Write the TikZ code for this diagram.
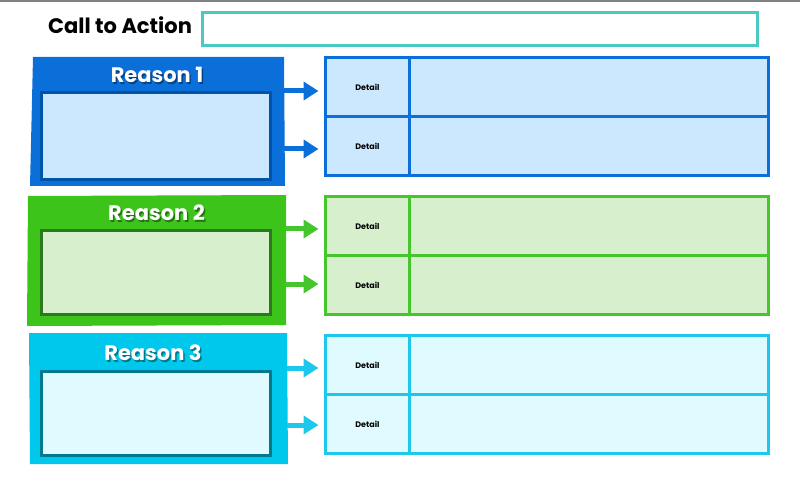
\documentclass[tikz,border=0pt]{standalone}
\usepackage{fontspec}
\setmainfont{Poppins}
\usetikzlibrary{arrows.meta}
\definecolor{ctateal}{HTML}{4CC8C4}
\definecolor{bOut}{HTML}{0A6FD8}
\definecolor{bIn}{HTML}{CCE8FF}
\definecolor{bInB}{HTML}{0054A8}
\definecolor{gOut}{HTML}{3CC41A}
\definecolor{gIn}{HTML}{D8EFCE}
\definecolor{gInB}{HTML}{2B7A1E}
\definecolor{gTab}{HTML}{44C62C}
\definecolor{cOut}{HTML}{00C8EC}
\definecolor{cIn}{HTML}{E0FBFF}
\definecolor{cInB}{HTML}{00788E}
\definecolor{cTab}{HTML}{1EC8EC}
\tikzset{
  cell/.style={draw, line width=3pt, rectangle, inner sep=0pt, outer sep=0pt, anchor=north west, font=\bfseries\fontsize{8}{9}\selectfont},
  inbox/.style={draw, line width=3pt, rectangle, inner sep=0pt, outer sep=0pt, anchor=north west},
  reasontxt/.style={text=white, font=\bfseries\fontsize{21}{24}\selectfont},
  shadowtxt/.style={text=black, opacity=0.4, font=\bfseries\fontsize{21}{24}\selectfont},
  linkarrow/.style={line width=5pt, shorten >=7pt, -{Triangle[width=18pt,length=15pt]}},
}
\begin{document}
\begin{tikzpicture}[x=1pt,y=-1pt]
\useasboundingbox (0,0) rectangle (800,478);
\fill[gray] (0,0) rectangle (800,2);
% Call to action
\node[font=\bfseries\fontsize{21}{24}\selectfont, anchor=center] (cta) at (120,25) {Call to Action};
\node[draw=ctateal, line width=3pt, inner sep=0pt, outer sep=0pt, anchor=north west, minimum width=555pt, minimum height=33pt] (ctabox) at (202.5,12.5) {};

% ---------- Reason 1 ----------
\fill[bOut] (33,57) -- (284,57) -- (285,186) -- (30,186) -- cycle;
\coordinate (r1a) at (284,91);
\coordinate (r1b) at (284,149);
\node[shadowtxt] at (158.5,76.5) {Reason 1};
\node[reasontxt] (r1t) at (157,75) {Reason 1};
\node[inbox, draw=bInB, fill=bIn, minimum width=229pt, minimum height=87pt] (r1in) at (41.5,92.5) {};
\node[cell, draw=bOut, fill=bIn, minimum width=84pt, minimum height=59pt] (d1a) at (325.5,57.5) {Detail};
\node[cell, draw=bOut, fill=bIn, minimum width=359pt, minimum height=59pt] (e1a) at (409.5,57.5) {};
\node[cell, draw=bOut, fill=bIn, minimum width=84pt, minimum height=59pt] (d1b) at (325.5,116.5) {Detail};
\node[cell, draw=bOut, fill=bIn, minimum width=359pt, minimum height=59pt] (e1b) at (409.5,116.5) {};
\draw[linkarrow, bOut] (r1a) -- (d1a.west |- r1a);
\draw[linkarrow, bOut] (r1b) -- (d1b.west |- r1b);

% ---------- Reason 2 ----------
\fill[gOut] (28,196) -- (286,195) -- (286,325) -- (27,326) -- cycle;
\coordinate (r2a) at (286,229);
\coordinate (r2b) at (286,284);
\node[shadowtxt] at (158,214.5) {Reason 2};
\node[reasontxt] (r2t) at (156.5,213) {Reason 2};
\node[inbox, draw=gInB, fill=gIn, minimum width=229pt, minimum height=84pt] (r2in) at (41.5,230.5) {};
\node[cell, draw=gTab, fill=gIn, minimum width=84pt, minimum height=59pt] (d2a) at (325.5,196.5) {Detail};
\node[cell, draw=gTab, fill=gIn, minimum width=359pt, minimum height=59pt] (e2a) at (409.5,196.5) {};
\node[cell, draw=gTab, fill=gIn, minimum width=84pt, minimum height=59pt] (d2b) at (325.5,255.5) {Detail};
\node[cell, draw=gTab, fill=gIn, minimum width=359pt, minimum height=59pt] (e2b) at (409.5,255.5) {};
\draw[linkarrow, gTab] (r2a) -- (d2a.west |- r2a);
\draw[linkarrow, gTab] (r2b) -- (d2b.west |- r2b);

% ---------- Reason 3 ----------
\fill[cOut] (29,333) -- (287,333) -- (288,464) -- (30,464) -- cycle;
\coordinate (r3a) at (287,368);
\coordinate (r3b) at (287,425);
\node[shadowtxt] at (154.5,354.5) {Reason 3};
\node[reasontxt] (r3t) at (153,353) {Reason 3};
\node[inbox, draw=cInB, fill=cIn, minimum width=229pt, minimum height=84pt] (r3in) at (41.5,371) {};
\node[cell, draw=cTab, fill=cIn, minimum width=84pt, minimum height=59pt] (d3a) at (325.5,335.5) {Detail};
\node[cell, draw=cTab, fill=cIn, minimum width=359pt, minimum height=59pt] (e3a) at (409.5,335.5) {};
\node[cell, draw=cTab, fill=cIn, minimum width=84pt, minimum height=59pt] (d3b) at (325.5,394.5) {Detail};
\node[cell, draw=cTab, fill=cIn, minimum width=359pt, minimum height=59pt] (e3b) at (409.5,394.5) {};
\draw[linkarrow, cTab] (r3a) -- (d3a.west |- r3a);
\draw[linkarrow, cTab] (r3b) -- (d3b.west |- r3b);
\end{tikzpicture}
\end{document}
